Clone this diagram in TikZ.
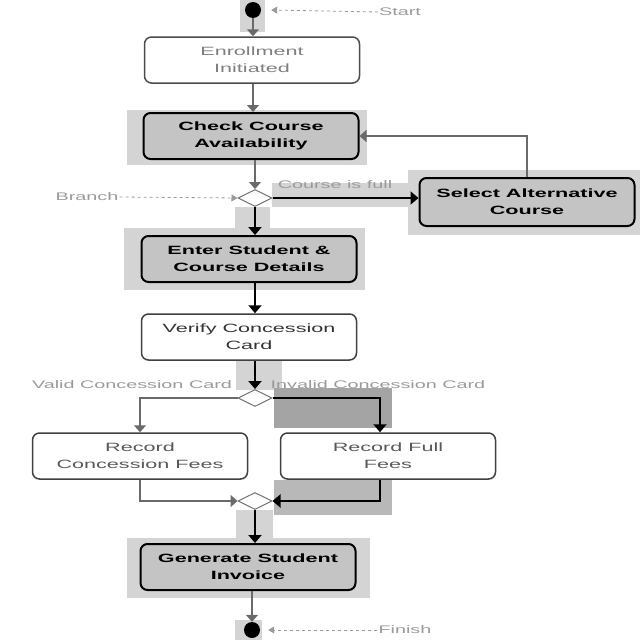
\documentclass[tikz,border=0pt]{standalone}
\usepackage{fontspec}
\setmainfont{Liberation Sans}[FakeStretch=1.8]
\usetikzlibrary{arrows.meta,shapes.geometric}
\definecolor{boxgray}{HTML}{C4C4C4}
\definecolor{hlgray}{HTML}{D4D4D4}
\definecolor{hldark}{HTML}{A4A4A4}
\definecolor{hlmid}{HTML}{B8B8B8}
\definecolor{linegray}{HTML}{6A6A6A}
\definecolor{lblgray}{HTML}{9A9A9A}
\begin{document}
\begin{tikzpicture}[x=1pt,y=-1pt,
  box/.style={draw, rounded corners=7pt, align=center, minimum width=215pt,
    minimum height=46pt, inner sep=0pt, font=\fontsize{12}{17}\selectfont},
  actbox/.style={box, fill=boxgray, draw=black, line width=2pt,
    font=\fontsize{12}{17}\selectfont\bfseries},
  plainbox/.style={box, fill=white, draw=black!75, line width=1.5pt},
  hl/.style={fill=hlgray, draw=none},
  dia/.style={diamond, draw=black!55, fill=white, line width=1pt,
    minimum width=34pt, minimum height=17pt, inner sep=0pt, aspect=2},
  dot/.style={circle, fill=black, minimum size=16pt, inner sep=0pt},
  lbl/.style={text=lblgray, font=\fontsize{11}{13}\selectfont, inner sep=1pt},
  garrow/.style={draw=linegray, line width=1.5pt,
    -{Triangle[width=12pt,length=7pt]}},
  barrow/.style={draw=black, line width=2.5pt,
    -{Triangle[width=13pt,length=8pt]}},
  darrow/.style={draw=lblgray, line width=0.8pt, dashed,
    -{Triangle[width=7pt,length=6pt]}}
]
\useasboundingbox (0,0) rectangle (640,640);
% highlights
\fill[hl] (240,0) rectangle (265,32);
\fill[hl] (127,110) rectangle (367,165);
\fill[hl] (235,207) rectangle (270,232);
\fill[hl] (272,183) rectangle (410,207);
\fill[hl] (408,170) rectangle (640,235);
\fill[hl] (124,228) rectangle (365,290);
\fill[hl] (236,358) rectangle (282,390);
\fill[hldark] (274,388) rectangle (392,428);
\fill[hlmid] (274,480) rectangle (392,515);
\fill[hl] (236,510) rectangle (273,540);
\fill[hl] (127,538) rectangle (370,598);
\fill[hl] (235,620) rectangle (262,640);

% nodes
\node[dot] (start) at (253,10) {};
\node[lbl] (startlbl) at (400,12) {Start};
\node[plainbox, draw=black!70, text=black!50] (enroll) at (252,60) {Enrollment\\Initiated};
\node[actbox] (check) at (251,136) {Check Course\\Availability};
\node[dia] (d1) at (255,198) {};
\node[lbl] (branchlbl) at (87,197) {Branch};
\node[lbl] (fulllbl) at (335,185) {Course is full};
\node[actbox, minimum height=48pt] (select) at (527,202) {Select Alternative\\Course};
\node[actbox] (enter) at (249,259) {Enter Student \&\\Course Details};
\node[plainbox, text=black!80] (verify) at (249,337) {Verify Concession\\Card};
\node[dia] (d2) at (255,398) {};
\node[lbl] (validlbl) at (132,385) {Valid Concession Card};
\node[lbl] (invalidlbl) at (378,385) {Invalid Concession Card};
\node[plainbox, text=black!65] (rcon) at (140,456) {Record\\Concession Fees};
\node[plainbox, text=black!65] (rfull) at (388,456) {Record Full\\Fees};
\node[dia] (d3) at (255,501) {};
\node[actbox] (gen) at (248,567) {Generate Student\\Invoice};
\node[dot] (finish) at (252,630) {};
\node[lbl] (finishlbl) at (405,630) {Finish};

% label pointers
\draw[darrow] (startlbl.west) -- ([xshift=10pt]start.east);
\draw[darrow] (branchlbl.east) -- (d1.west);
\draw[darrow] (finishlbl.west) -- ([xshift=8pt]finish.east);

% flows
\draw[garrow] (start.south) -- (start.south |- enroll.north);
\draw[garrow] (enroll.south -| start) -- (start |- check.north);
\draw[garrow] (check.south -| d1) -- (d1.north);
\draw[barrow] (d1.east) -- (select.west |- d1);
\draw[garrow] (select.north) |- (check.east);
\draw[barrow] (d1.south) -- (d1.south |- enter.north);
\draw[barrow] (enter.south -| d1) -- (d1 |- verify.north);
\draw[barrow] (verify.south -| d2) -- (d2.north);
\draw[garrow] (d2.west) -| (rcon.north);
\draw[barrow] (d2.east) -| ([xshift=-8pt]rfull.north);
\draw[garrow] (rcon.south) |- (d3.west);
\draw[barrow] ([xshift=-8pt]rfull.south) |- (d3.east);
\draw[barrow] (d3.south) -- (d3.south |- gen.north);
\draw[garrow] (gen.south -| finish) -- (finish.north);
\end{tikzpicture}
\end{document}
